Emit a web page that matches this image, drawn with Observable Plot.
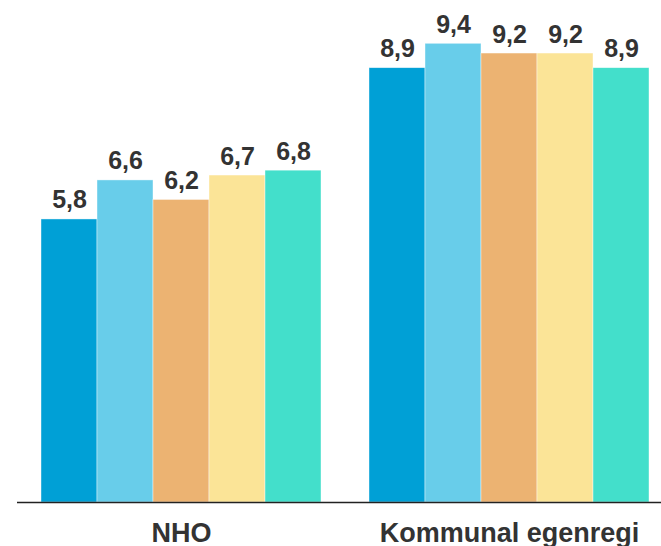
<!DOCTYPE html>
<html>
<head>
<meta charset="utf-8">
<script src="https://cdn.jsdelivr.net/npm/d3@7"></script>
<script src="https://cdn.jsdelivr.net/npm/@observablehq/plot@0.6"></script>
<style>
  html, body { margin: 0; padding: 0; background: #fff; }
</style>
</head>
<body>
<div id="chart"></div>
<script>
const groups = ["NHO", "Kommunal egenregi"];
const series = ["Serie 1", "Serie 2", "Serie 3", "Serie 4", "Serie 5"];
const nhoValues = [5.8, 6.6, 6.2, 6.7, 6.8];
const kommunalValues = [8.9, 9.4, 9.2, 9.2, 8.9];
const colors = ["#00a0d6", "#68cdea", "#ecb372", "#fbe497", "#43dfcb"];

const data = [
  ...series.map((s, i) => ({group: groups[0], series: s, value: nhoValues[i]})),
  ...series.map((s, i) => ({group: groups[1], series: s, value: kommunalValues[i]}))
];

const fmt = v => v.toFixed(1).replace(".", ",");

const chart = Plot.plot({
  width: 661,
  height: 546,
  marginLeft: 40,
  marginRight: 10,
  marginTop: 14,
  marginBottom: 44,
  style: {
    fontFamily: "'Liberation Sans', Arial, sans-serif",
    fontSize: "27px",
    fontWeight: "bold",
    color: "#333",
    background: "#fff"
  },
  fx: {domain: groups, padding: 0.14, label: null, tickSize: 0, tickPadding: 20},
  x: {domain: series, padding: 0, axis: null},
  y: {domain: [0, 10], axis: null},
  color: {domain: series, range: colors},
  marks: [
    Plot.barY(data, {fx: "group", x: "series", y: "value", fill: "series", stroke: "#ffffff", strokeWidth: 0.7, strokeOpacity: 0.6}),
    Plot.ruleY([0], {stroke: "#222", strokeWidth: 1.5, insetLeft: -23, insetRight: -23}),
    Plot.text(data, {fx: "group", x: "series", y: "value", text: d => fmt(d.value), lineAnchor: "bottom", dy: -11, fontSize: 25, fontWeight: "bold", fill: "#333"})
  ]
});

document.getElementById("chart").appendChild(chart);
</script>
</body>
</html>
